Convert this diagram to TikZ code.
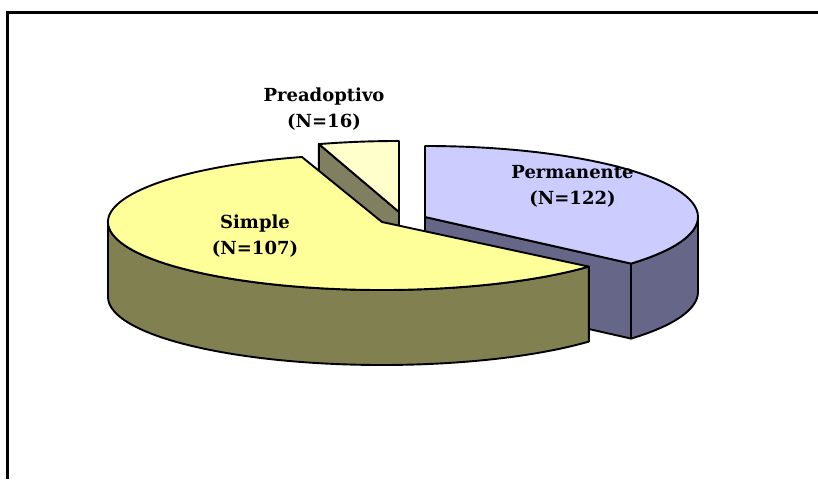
\documentclass[tikz,border=0pt]{standalone}
\usepackage{fontspec}
\setmainfont{DejaVu Serif}
\definecolor{perTop}{RGB}{204,204,255}
\definecolor{perSide}{RGB}{102,102,136}
\definecolor{simTop}{RGB}{255,255,153}
\definecolor{simSide}{RGB}{128,128,80}
\definecolor{preTop}{RGB}{255,255,204}
\definecolor{preSide}{RGB}{128,128,96}
\tikzset{
	slice/.style={line width=1.9pt, line join=round},
	lbl/.style={align=center, font=\bfseries\fontsize{18}{26}\selectfont},
	per/.style={x radius=273pt, y radius=71pt},
	sim/.style={x radius=274pt, y radius=68pt}
}
\begin{document}
\begin{tikzpicture}[x=1pt, y=1pt]
		\useasboundingbox (0, 0) rectangle (818, 479);
		\draw[line width=2.2pt] (7.5, 0) -- (7.5, 466.5) -- (818, 466.5);
		\coordinate (perC) at (425, 262);
		\coordinate (preC) at (399, 267);
		\coordinate (simC) at (382, 257);
		\path (perC) ++(-41:273 and 71) coordinate (perA);
		\path (preC) ++(107:274 and 71) coordinate (preA);
		\path (simC) ++(107:274 and 68) coordinate (simA);
		\path (simC) ++(180:274 and 68) coordinate (simL);
		% Permanente
		\filldraw[slice, fill=perSide] (perC) -- (perA) -- ++(0, -75) -- ([yshift=-75pt]perC) -- cycle;
		\filldraw[slice, fill=perSide] (perA) arc[per, start angle=-41, end angle=0] -- ++(0, -75) arc[per, start angle=0, end angle=-41] -- cycle;
		\filldraw[slice, fill=perTop] (perC) -- ++(0, 71) arc[per, start angle=90, end angle=-41] -- cycle;
		% Preadoptivo
		\filldraw[slice, fill=preSide] (preC) -- (preA) -- ++(0, -75) -- ([yshift=-75pt]preC) -- cycle;
		\filldraw[slice, fill=preTop] (preC) -- ++(0, 71) arc[x radius=274pt, y radius=71pt, start angle=90, end angle=107] -- cycle;
		% Simple
		\filldraw[slice, fill=simSide] (simL) arc[sim, start angle=180, end angle=319] -- ++(0, -75) arc[sim, start angle=319, end angle=180] -- cycle;
		\filldraw[slice, fill=simTop] (simC) -- (simA) arc[sim, start angle=107, end angle=319] -- cycle;
		\node[lbl] (preLbl) at (324, 370) {Preadoptivo\\(N=16)};
		\node[lbl] (perLbl) at (572.5, 293) {Permanente\\(N=122)};
		\node[lbl] (simLbl) at (255, 243) {Simple\\(N=107)};
	\end{tikzpicture}
\end{document}
